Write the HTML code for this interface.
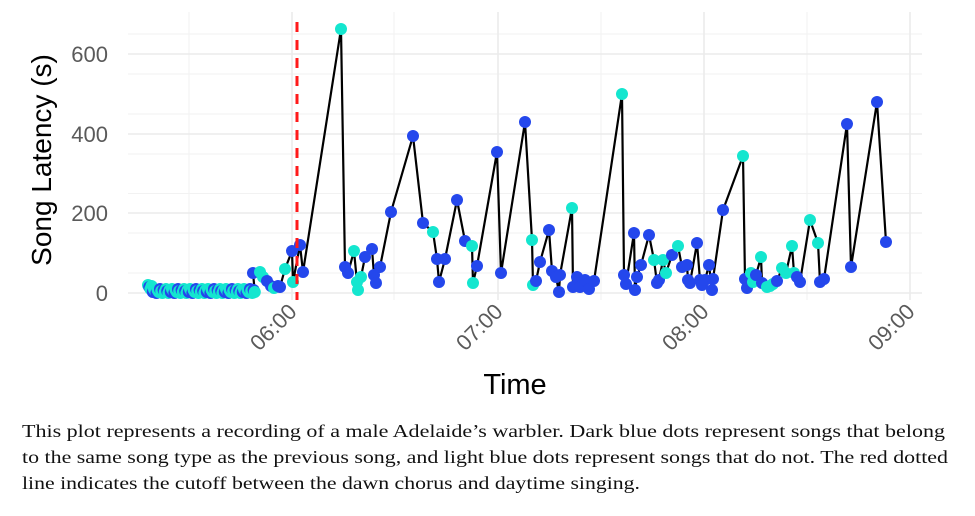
<!DOCTYPE html>
<html><head><meta charset="utf-8"><style>
body{margin:0;background:#fff;width:975px;height:516px;overflow:hidden}
svg{display:block}
</style></head><body>
<svg width="975" height="516" viewBox="0 0 975 516" xmlns="http://www.w3.org/2000/svg">
<g stroke="#f2f2f2" stroke-width="1">
<line x1="128" x2="922" y1="273" y2="273"/><line x1="128" x2="922" y1="233" y2="233"/><line x1="128" x2="922" y1="193.5" y2="193.5"/><line x1="128" x2="922" y1="154" y2="154"/><line x1="128" x2="922" y1="114" y2="114"/><line x1="128" x2="922" y1="74" y2="74"/><line x1="128" x2="922" y1="34" y2="34"/>
<line y1="12" y2="300" x1="189" x2="189"/><line y1="12" y2="300" x1="394" x2="394"/><line y1="12" y2="300" x1="601" x2="601"/><line y1="12" y2="300" x1="807" x2="807"/>
</g>
<g stroke="#ebebeb" stroke-width="1.6">
<line x1="128" x2="922" y1="293" y2="293"/><line x1="128" x2="922" y1="213" y2="213"/><line x1="128" x2="922" y1="134" y2="134"/><line x1="128" x2="922" y1="54" y2="54"/>
<line y1="12" y2="300" x1="292" x2="292"/><line y1="12" y2="300" x1="498" x2="498"/><line y1="12" y2="300" x1="704" x2="704"/><line y1="12" y2="300" x1="910" x2="910"/>
</g>
<g id="plot"></g>
<line x1="297" x2="297" y1="22" y2="300" stroke="#ff1a1a" stroke-width="3" stroke-dasharray="10,8"/>
<g font-family="Liberation Sans, sans-serif" font-size="22" fill="#5a5a5a" text-anchor="end">
<text x="108" y="301">0</text><text x="108" y="221">200</text><text x="108" y="142">400</text><text x="108" y="62">600</text>
</g>
<g font-family="Liberation Sans, sans-serif" font-size="22" fill="#5a5a5a" text-anchor="end">
<text transform="translate(298,313) rotate(-45)">06:00</text>
<text transform="translate(504,313) rotate(-45)">07:00</text>
<text transform="translate(710,313) rotate(-45)">08:00</text>
<text transform="translate(916,313) rotate(-45)">09:00</text>
</g>
<text x="515" y="394" font-family="Liberation Sans, sans-serif" font-size="29" text-anchor="middle">Time</text>
<text transform="translate(51,160) rotate(-90)" font-family="Liberation Sans, sans-serif" font-size="28" text-anchor="middle">Song Latency (s)</text>
<g font-family="Liberation Serif, serif" font-size="18" fill="#111">
<text x="22" y="437" textLength="923" lengthAdjust="spacingAndGlyphs">This plot represents a recording of a male Adelaide’s warbler. Dark blue dots represent songs that belong</text>
<text x="22" y="463" textLength="926" lengthAdjust="spacingAndGlyphs">to the same song type as the previous song, and light blue dots represent songs that do not. The red dotted</text>
<text x="22" y="489" textLength="618" lengthAdjust="spacingAndGlyphs">line indicates the cutoff between the dawn chorus and daytime singing.</text>
</g>
</svg>
<script>
var B="#2447ec",C="#14e6cf";
var pts=[];
for(var i=0;i<90;i++){var x=148+i*1.2;var y=289+((i*7)%5)+(i<4?-4:0);pts.push([x,y,i%3==1?B:C]);}
pts=pts.concat([[253,273,B],[260,272,C],[263,277,C],[267,281,B],[271,286,B],[274,288,C],[278,286,B],[280,287,B],[285,269,C],[292,251,B],[293,282,C],[300,245,B],[303,272,B],[341,29,C],[345,267,B],[348,273,B],[354,251,C],[357,282,C],[358,290,C],[361,277,C],[365,257,B],[372,249,B],[374,275,B],[376,283,B],[380,267,B],[391,212,B],[413,136,B],[423,223,B],[433,232,C],[437,259,B],[439,282,B],[445,259,B],[457,200,B],[465,241,B],[472,246,C],[473,283,C],[477,266,B],[497,152,B],[501,273,B],[525,122,B],[532,240,C],[533,285,C],[536,281,B],[540,262,B],[549,230,B],[552,271,B],[556,277,B],[559,292,B],[560,275,B],[572,208,C],[573,287,B],[577,277,B],[580,287,B],[585,280,B],[589,289,B],[594,281,B],[622,94,C],[624,275,B],[626,284,B],[634,233,B],[635,290,B],[637,277,B],[641,265,B],[649,235,B],[654,260,C],[657,283,B],[659,280,B],[663,260,C],[666,273,C],[672,255,B],[678,246,C],[682,267,B],[687,265,B],[688,280,B],[690,283,B],[697,243,B],[700,280,B],[702,285,B],[705,280,B],[709,265,B],[712,290,B],[713,279,B],[723,210,B],[743,156,C],[745,279,B],[747,288,B],[751,273,C],[753,282,C],[756,275,B],[761,257,C],[762,283,B],[767,287,C],[770,286,C],[773,284,C],[777,281,B],[782,268,C],[786,273,C],[792,246,C],[794,273,C],[797,277,B],[800,282,B],[810,220,C],[818,243,C],[820,282,B],[824,279,B],[847,124,B],[851,267,B],[877,102,B],[886,242,B]]);
var ns="http://www.w3.org/2000/svg",g=document.getElementById("plot");
var pl=document.createElementNS(ns,"polyline");
pl.setAttribute("points",pts.map(function(p){return p[0]+","+p[1]}).join(" "));
pl.setAttribute("fill","none");pl.setAttribute("stroke","#000");pl.setAttribute("stroke-width","2.2");g.appendChild(pl);
pts.forEach(function(p){var c=document.createElementNS(ns,"circle");c.setAttribute("cx",p[0]);c.setAttribute("cy",p[1]);c.setAttribute("r","6");c.setAttribute("fill",p[2]);g.appendChild(c);});
</script>
</body></html>
